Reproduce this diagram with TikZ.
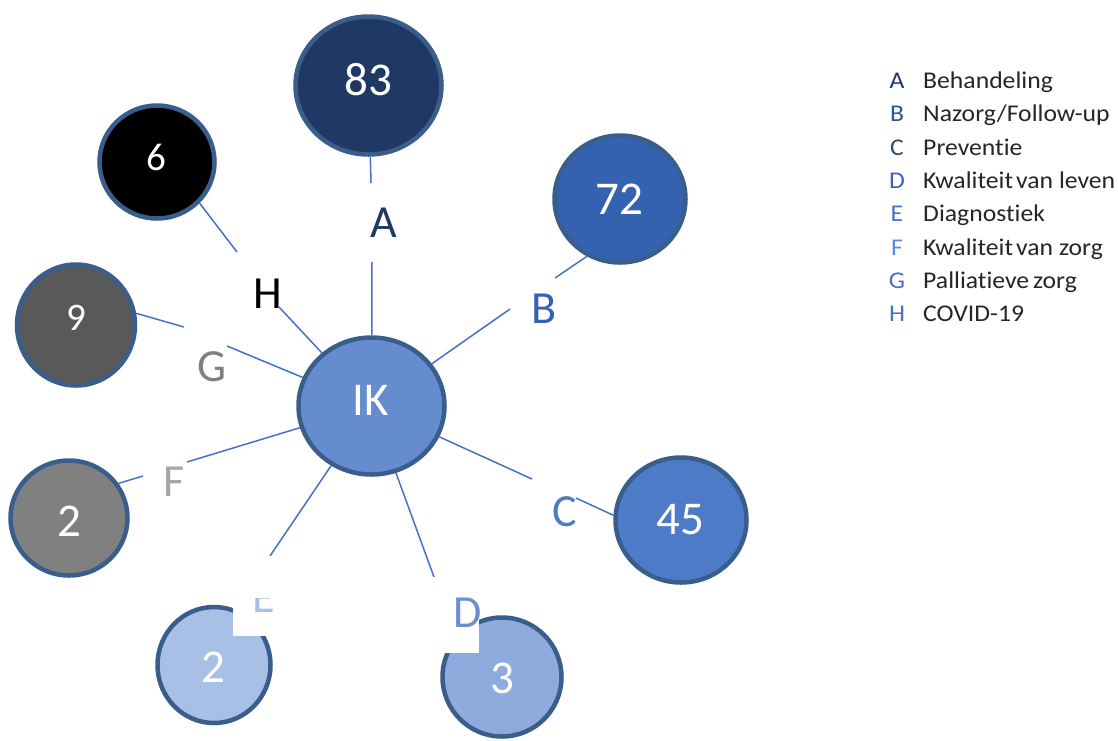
\documentclass[tikz,border=0pt]{standalone}
\usepackage{fontspec}
\setmainfont{Carlito}[Ligatures={NoCommon,NoRequired,NoContextual}]
\usetikzlibrary{shapes.geometric}
\definecolor{cBorder}{HTML}{3A5E8C}
\definecolor{cLine}{HTML}{4472C4}
\definecolor{cA}{HTML}{1F3864}
\definecolor{cB}{HTML}{3562B0}
\definecolor{cC}{HTML}{4D7BC8}
\definecolor{cD}{HTML}{8FAADC}
\definecolor{cE}{HTML}{A9C0E6}
\definecolor{cF}{HTML}{808080}
\definecolor{cG}{HTML}{595959}
\definecolor{cH}{HTML}{000000}
\definecolor{cIK}{HTML}{668CD0}
\definecolor{tD}{HTML}{6A8FD0}
\definecolor{tF}{HTML}{A6A6A6}
\definecolor{tG}{HTML}{808080}
\definecolor{cLegend}{HTML}{262626}
\definecolor{lA}{HTML}{1F3864}
\definecolor{lB}{HTML}{2E5597}
\definecolor{lC}{HTML}{2E4A80}
\definecolor{lD}{HTML}{3A64B0}
\definecolor{lE}{HTML}{4472C4}
\definecolor{lF}{HTML}{5B8AD6}
\definecolor{lG}{HTML}{4472C4}
\definecolor{lH}{HTML}{4472C4}
\begin{document}
\begin{tikzpicture}[x=1pt,y=-1pt,
  bub/.style={ellipse, draw=cBorder, line width=4.5pt, inner sep=0pt},
  conn/.style={draw=cLine, line width=1.5pt},
  num/.style={text=white, font=\fontsize{47}{50}\selectfont, inner sep=0pt},
  smallnum/.style={text=white, font=\fontsize{39}{42}\selectfont, inner sep=0pt},
  lbl/.style={font=\fontsize{46}{50}\selectfont, inner sep=0pt},
  legtxt/.style={font=\fontsize{24}{26}\selectfont, anchor=base west, inner sep=0pt, text=cLegend, xscale=1.07},
  legkey/.style={font=\fontsize{24}{26}\selectfont, anchor=base, inner sep=0pt, xscale=1.07}]
\useasboundingbox (0,0) rectangle (1118,740);
\fill[white] (0,0) rectangle (1118,740);

% bubbles
\node[bub, fill=cIK, minimum width=146pt, minimum height=137pt] (IK) at (371.5,406) {};
\node[bub, fill=cA, minimum width=146pt, minimum height=138pt] (Ac) at (368.5,85.5) {};
\node[bub, fill=cB, minimum width=131pt, minimum height=127pt] (Bc) at (620,199) {};
\node[bub, fill=cC, minimum width=131pt, minimum height=125pt] (Cc) at (681,520) {};
\node[bub, fill=cD, minimum width=119pt, minimum height=119pt] (Dc) at (502,677) {};
\node[bub, fill=cE, minimum width=113pt, minimum height=116pt] (Ec) at (214,665) {};
\node[bub, fill=cF, minimum width=117pt, minimum height=115pt] (Fc) at (69,518) {};
\node[bub, fill=cG, minimum width=118pt, minimum height=121pt] (Gc) at (76,325) {};
\node[bub, fill=cH, minimum width=115pt, minimum height=113pt] (Hc) at (157,162) {};

% numbers
\node[num] (IKt) at (371,400) {IK};
\node[num] (An) at (368,80) {83};
\node[num] (Bn) at (619,199) {72};
\node[num] (Cn) at (680,520) {45};
\node[num] (Dn) at (502,678) {3};
\node[num] (En) at (213,667) {2};
\node[num] (Fn) at (69,521) {2};
\node[smallnum] (Gn) at (76,318) {9};
\node[smallnum] (Hn) at (156,157) {6};

% connector end points at the label boxes
\coordinate (A1) at (372,262); \coordinate (A2) at (371,183);
\coordinate (B1) at (510,309); \coordinate (B2) at (555,278);
\coordinate (C1) at (532,479); \coordinate (C2) at (576,498);
\coordinate (D1) at (434,577);
\coordinate (E1) at (270,556);
\coordinate (F1) at (187,462); \coordinate (F2) at (143,476);
\coordinate (G1) at (227,346); \coordinate (G2) at (184,327);
\coordinate (H1) at (279,307); \coordinate (H2) at (237,252);

% connectors
\draw[conn] (IK) -- (A1); \draw[conn] (A2) -- (Ac);
\draw[conn] (IK) -- (B1); \draw[conn] (B2) -- (Bc.240);
\draw[conn] (IK) -- (C1); \draw[conn] (C2) -- (Cc.176);
\draw[conn] (IK) -- (D1);
\draw[conn] (IK) -- (E1);
\draw[conn] (IK) -- (F1); \draw[conn] (F2) -- (Fc.35);
\draw[conn] (IK) -- (G1); \draw[conn] (G2) -- (Gc.11);
\draw[conn] (IK) -- (H1); \draw[conn] (H2) -- (Hc.316);

% white label boxes overlapping bubbles
\fill[white] (389,577) rectangle (479,653);
\fill[white] (233,556) rectangle (307,636);

% labels
\node[lbl, text=cA] (Al) at (383.5,223) {A};
\node[lbl, text=cB] (Bl) at (544,309) {B};
\node[lbl, text=cC] (Cl) at (565,512) {C};
\node[lbl, text=tD] (Dl) at (468,613) {D};
\begin{scope}
  \clip (240,598) rectangle (290,625);
  \node[lbl, text=cE] (El) at (264,598) {E};
\end{scope}
\node[lbl, text=tF] (Fl) at (174,482) {F};
\node[lbl, text=tG] (Gl) at (212,367) {G};
\node[lbl, text=cH] (Hl) at (268,294) {H};

% legend
\node[legkey, text=lA] (kA) at (897,88.3) {A};
\node[legtxt] (tA) at (923,88.3) {Behandeling};
\node[legkey, text=lB] (kB) at (897,121.6) {B};
\node[legtxt] (tB) at (923,121.6) {Nazorg/Follow-up};
\node[legkey, text=lC] (kC) at (897,155) {C};
\node[legtxt] (tC) at (923,155) {Preventie};
\node[legkey, text=lD] (kD) at (897,188.3) {D};
\node[legtxt] (tD) at (923,188.3) {Kwaliteit\hspace{0.12em}van leven};
\node[legkey, text=lE] (kE) at (897,221.6) {E};
\node[legtxt] (tE) at (923,221.6) {Diagnostiek};
\node[legkey, text=lF] (kF) at (897,255) {F};
\node[legtxt] (tF) at (923,255) {Kwaliteit\hspace{0.12em}van zorg};
\node[legkey, text=lG] (kG) at (897,288.3) {G};
\node[legtxt] (tG) at (923,288.3) {Palliatieve\hspace{0.15em}zorg};
\node[legkey, text=lH] (kH) at (897,321.7) {H};
\node[legtxt] (tH) at (923,321.7) {COVID-19};
\end{tikzpicture}
\end{document}
